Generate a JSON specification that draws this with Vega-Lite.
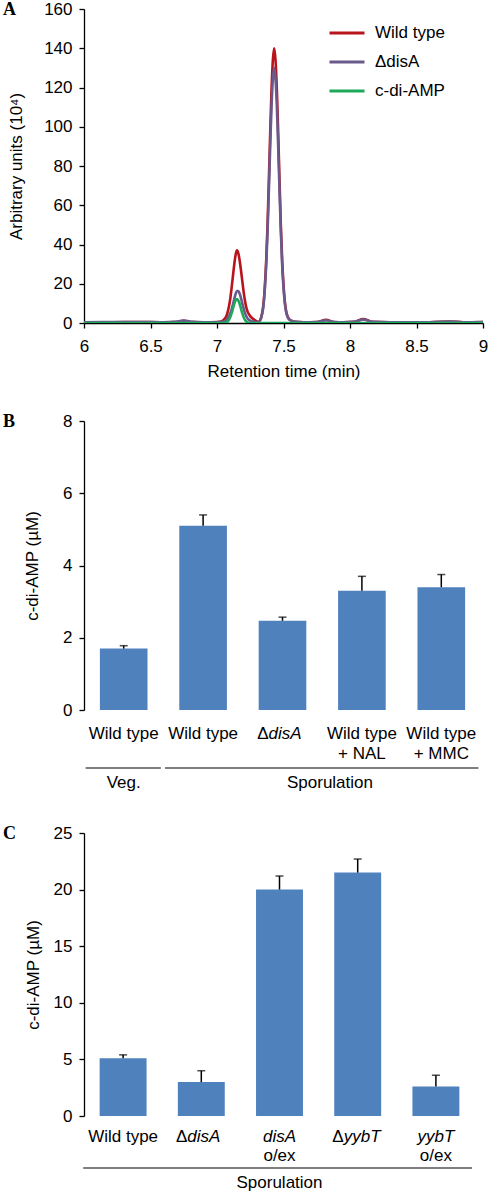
{
  "$schema": "https://vega.github.io/schema/vega-lite/v6.json",
  "padding": {"left": 3, "top": 0, "right": 5, "bottom": 0},
  "spacing": 33,
  "config": {
    "font": "Liberation Sans",
    "view": {"stroke": null},
    "axis": {
      "labelFont": "Liberation Sans", "titleFont": "Liberation Sans",
      "labelFontSize": 17, "titleFontSize": 17, "titleFontWeight": "normal",
      "labelColor": "black", "titleColor": "black",
      "domainColor": "black", "tickColor": "black", "domainWidth": 1.3, "tickWidth": 1.3,
      "tickSize": 5, "grid": false
    },
    "title": {"font": "Liberation Serif", "fontSize": 18, "fontWeight": "bold", "color": "black", "anchor": "start", "frame": "group", "orient": "top", "baseline": "top", "offset": -19, "dx": -81}
  },
  "vconcat": [
    {
      "width": 399, "height": 314,
      "title": {"text": "A"},
      "data": {"values": [
        {"s": "Wild type", "t": 6.0, "v": 0.4}, {"s": "Wild type", "t": 6.2, "v": 0.4}, {"s": "Wild type", "t": 6.4, "v": 0.5}, {"s": "Wild type", "t": 6.6, "v": 0.4},
        {"s": "Wild type", "t": 6.68, "v": 0.5}, {"s": "Wild type", "t": 6.75, "v": 1.1}, {"s": "Wild type", "t": 6.82, "v": 0.5}, {"s": "Wild type", "t": 6.9, "v": 0.4},
        {"s": "Wild type", "t": 7.0, "v": 0.5}, {"s": "Wild type", "t": 7.03, "v": 0.8}, {"s": "Wild type", "t": 7.05, "v": 1.6}, {"s": "Wild type", "t": 7.07, "v": 3.5},
        {"s": "Wild type", "t": 7.08, "v": 5.5}, {"s": "Wild type", "t": 7.09, "v": 8.5}, {"s": "Wild type", "t": 7.1, "v": 12.5}, {"s": "Wild type", "t": 7.11, "v": 18},
        {"s": "Wild type", "t": 7.12, "v": 24}, {"s": "Wild type", "t": 7.13, "v": 30}, {"s": "Wild type", "t": 7.14, "v": 34.8}, {"s": "Wild type", "t": 7.15, "v": 37},
        {"s": "Wild type", "t": 7.16, "v": 35.6}, {"s": "Wild type", "t": 7.17, "v": 32}, {"s": "Wild type", "t": 7.18, "v": 27}, {"s": "Wild type", "t": 7.19, "v": 21.5},
        {"s": "Wild type", "t": 7.2, "v": 16}, {"s": "Wild type", "t": 7.21, "v": 11.5}, {"s": "Wild type", "t": 7.22, "v": 8}, {"s": "Wild type", "t": 7.23, "v": 5.8},
        {"s": "Wild type", "t": 7.25, "v": 3.5}, {"s": "Wild type", "t": 7.27, "v": 2.2}, {"s": "Wild type", "t": 7.29, "v": 1.2}, {"s": "Wild type", "t": 7.3, "v": 0.8},
        {"s": "Wild type", "t": 7.31, "v": 0.6}, {"s": "Wild type", "t": 7.32, "v": 1.0}, {"s": "Wild type", "t": 7.33, "v": 2.4}, {"s": "Wild type", "t": 7.34, "v": 5.2},
        {"s": "Wild type", "t": 7.35, "v": 10}, {"s": "Wild type", "t": 7.36, "v": 19}, {"s": "Wild type", "t": 7.37, "v": 32}, {"s": "Wild type", "t": 7.38, "v": 50},
        {"s": "Wild type", "t": 7.39, "v": 73}, {"s": "Wild type", "t": 7.4, "v": 97}, {"s": "Wild type", "t": 7.41, "v": 119}, {"s": "Wild type", "t": 7.42, "v": 134},
        {"s": "Wild type", "t": 7.43, "v": 140}, {"s": "Wild type", "t": 7.44, "v": 134}, {"s": "Wild type", "t": 7.45, "v": 119}, {"s": "Wild type", "t": 7.46, "v": 97},
        {"s": "Wild type", "t": 7.47, "v": 73}, {"s": "Wild type", "t": 7.48, "v": 50}, {"s": "Wild type", "t": 7.49, "v": 32}, {"s": "Wild type", "t": 7.5, "v": 19.5},
        {"s": "Wild type", "t": 7.51, "v": 11}, {"s": "Wild type", "t": 7.52, "v": 6}, {"s": "Wild type", "t": 7.53, "v": 3.5}, {"s": "Wild type", "t": 7.54, "v": 2.2},
        {"s": "Wild type", "t": 7.56, "v": 1.2}, {"s": "Wild type", "t": 7.59, "v": 0.6}, {"s": "Wild type", "t": 7.65, "v": 0.4}, {"s": "Wild type", "t": 7.75, "v": 0.5},
        {"s": "Wild type", "t": 7.82, "v": 1.6}, {"s": "Wild type", "t": 7.88, "v": 0.5}, {"s": "Wild type", "t": 7.95, "v": 0.4}, {"s": "Wild type", "t": 8.03, "v": 0.6},
        {"s": "Wild type", "t": 8.1, "v": 2.0}, {"s": "Wild type", "t": 8.17, "v": 0.6}, {"s": "Wild type", "t": 8.3, "v": 0.4}, {"s": "Wild type", "t": 8.6, "v": 0.4},
        {"s": "Wild type", "t": 8.75, "v": 0.7}, {"s": "Wild type", "t": 8.85, "v": 0.4}, {"s": "Wild type", "t": 9.0, "v": 0.5},

        {"s": "ΔdisA", "t": 6.0, "v": 0.4}, {"s": "ΔdisA", "t": 6.2, "v": 0.5}, {"s": "ΔdisA", "t": 6.4, "v": 0.5}, {"s": "ΔdisA", "t": 6.6, "v": 0.4},
        {"s": "ΔdisA", "t": 6.68, "v": 0.6}, {"s": "ΔdisA", "t": 6.75, "v": 1.3}, {"s": "ΔdisA", "t": 6.82, "v": 0.6}, {"s": "ΔdisA", "t": 6.9, "v": 0.4},
        {"s": "ΔdisA", "t": 7.0, "v": 0.4}, {"s": "ΔdisA", "t": 7.05, "v": 0.7}, {"s": "ΔdisA", "t": 7.07, "v": 1.5}, {"s": "ΔdisA", "t": 7.09, "v": 3.5},
        {"s": "ΔdisA", "t": 7.1, "v": 5}, {"s": "ΔdisA", "t": 7.11, "v": 7}, {"s": "ΔdisA", "t": 7.12, "v": 9.5}, {"s": "ΔdisA", "t": 7.13, "v": 12.3},
        {"s": "ΔdisA", "t": 7.14, "v": 14.8}, {"s": "ΔdisA", "t": 7.15, "v": 16.3}, {"s": "ΔdisA", "t": 7.16, "v": 16.3}, {"s": "ΔdisA", "t": 7.17, "v": 15},
        {"s": "ΔdisA", "t": 7.18, "v": 12.8}, {"s": "ΔdisA", "t": 7.19, "v": 10}, {"s": "ΔdisA", "t": 7.2, "v": 7.5}, {"s": "ΔdisA", "t": 7.21, "v": 5.2},
        {"s": "ΔdisA", "t": 7.22, "v": 3.5}, {"s": "ΔdisA", "t": 7.23, "v": 2.3}, {"s": "ΔdisA", "t": 7.25, "v": 1.2}, {"s": "ΔdisA", "t": 7.27, "v": 0.6},
        {"s": "ΔdisA", "t": 7.29, "v": 0.4}, {"s": "ΔdisA", "t": 7.31, "v": 0.4}, {"s": "ΔdisA", "t": 7.32, "v": 0.9}, {"s": "ΔdisA", "t": 7.33, "v": 2.2},
        {"s": "ΔdisA", "t": 7.34, "v": 4.8}, {"s": "ΔdisA", "t": 7.35, "v": 9.3}, {"s": "ΔdisA", "t": 7.36, "v": 17.6}, {"s": "ΔdisA", "t": 7.37, "v": 29.7},
        {"s": "ΔdisA", "t": 7.38, "v": 46.4}, {"s": "ΔdisA", "t": 7.39, "v": 67.8}, {"s": "ΔdisA", "t": 7.4, "v": 90}, {"s": "ΔdisA", "t": 7.41, "v": 110.5},
        {"s": "ΔdisA", "t": 7.42, "v": 124.4}, {"s": "ΔdisA", "t": 7.43, "v": 130}, {"s": "ΔdisA", "t": 7.44, "v": 124.4}, {"s": "ΔdisA", "t": 7.45, "v": 110.5},
        {"s": "ΔdisA", "t": 7.46, "v": 90}, {"s": "ΔdisA", "t": 7.47, "v": 67.8}, {"s": "ΔdisA", "t": 7.48, "v": 46.4}, {"s": "ΔdisA", "t": 7.49, "v": 29.7},
        {"s": "ΔdisA", "t": 7.5, "v": 18}, {"s": "ΔdisA", "t": 7.51, "v": 10}, {"s": "ΔdisA", "t": 7.52, "v": 5.5}, {"s": "ΔdisA", "t": 7.53, "v": 3.2},
        {"s": "ΔdisA", "t": 7.54, "v": 2}, {"s": "ΔdisA", "t": 7.56, "v": 1.1}, {"s": "ΔdisA", "t": 7.59, "v": 0.6}, {"s": "ΔdisA", "t": 7.65, "v": 0.4},
        {"s": "ΔdisA", "t": 7.75, "v": 0.5}, {"s": "ΔdisA", "t": 7.82, "v": 1.4}, {"s": "ΔdisA", "t": 7.88, "v": 0.5}, {"s": "ΔdisA", "t": 7.95, "v": 0.4},
        {"s": "ΔdisA", "t": 8.03, "v": 0.6}, {"s": "ΔdisA", "t": 8.1, "v": 1.8}, {"s": "ΔdisA", "t": 8.17, "v": 0.6}, {"s": "ΔdisA", "t": 8.3, "v": 0.4},
        {"s": "ΔdisA", "t": 8.6, "v": 0.4}, {"s": "ΔdisA", "t": 8.75, "v": 0.7}, {"s": "ΔdisA", "t": 8.85, "v": 0.4}, {"s": "ΔdisA", "t": 9.0, "v": 0.5},

        {"s": "c-di-AMP", "t": 6.0, "v": 0}, {"s": "c-di-AMP", "t": 7.0, "v": 0}, {"s": "c-di-AMP", "t": 7.06, "v": 0.1}, {"s": "c-di-AMP", "t": 7.07, "v": 0.35},
        {"s": "c-di-AMP", "t": 7.08, "v": 0.8}, {"s": "c-di-AMP", "t": 7.09, "v": 1.6}, {"s": "c-di-AMP", "t": 7.1, "v": 3.0}, {"s": "c-di-AMP", "t": 7.11, "v": 5.0},
        {"s": "c-di-AMP", "t": 7.12, "v": 7.4}, {"s": "c-di-AMP", "t": 7.13, "v": 9.8}, {"s": "c-di-AMP", "t": 7.14, "v": 11.5}, {"s": "c-di-AMP", "t": 7.15, "v": 12.2},
        {"s": "c-di-AMP", "t": 7.16, "v": 11.5}, {"s": "c-di-AMP", "t": 7.17, "v": 9.8}, {"s": "c-di-AMP", "t": 7.18, "v": 7.4}, {"s": "c-di-AMP", "t": 7.19, "v": 5.0},
        {"s": "c-di-AMP", "t": 7.2, "v": 3.0}, {"s": "c-di-AMP", "t": 7.21, "v": 1.6}, {"s": "c-di-AMP", "t": 7.22, "v": 0.8}, {"s": "c-di-AMP", "t": 7.23, "v": 0.35},
        {"s": "c-di-AMP", "t": 7.24, "v": 0.1}, {"s": "c-di-AMP", "t": 7.26, "v": 0}, {"s": "c-di-AMP", "t": 9.0, "v": 0}
      ]},
      "mark": {"type": "line", "interpolate": "monotone", "strokeWidth": 2.6, "clip": true},
      "encoding": {
        "x": {"field": "t", "type": "quantitative", "scale": {"domain": [6, 9], "nice": false},
              "axis": {"values": [6, 6.5, 7, 7.5, 8, 8.5, 9], "format": "~g", "title": "Retention time (min)", "labelPadding": 10, "titlePadding": 9, "labelFlush": false}},
        "y": {"field": "v", "type": "quantitative", "scale": {"domain": [0, 160], "nice": false},
              "axis": {"values": [0, 20, 40, 60, 80, 100, 120, 140, 160], "title": "Arbitrary units (10⁴)", "labelPadding": 7, "titlePadding": 18}},
        "color": {"field": "s", "type": "nominal", "sort": ["Wild type", "ΔdisA", "c-di-AMP"],
                  "scale": {"domain": ["Wild type", "ΔdisA", "c-di-AMP"], "range": ["#b8141c", "#6a5a8c", "#1ca95a"]},
                  "legend": {"title": null, "orient": "none", "legendX": 244, "legendY": 5, "padding": 0,
                             "symbolType": "stroke", "symbolSize": 1225, "symbolStrokeWidth": 3,
                             "labelFontSize": 17, "labelFont": "Liberation Sans", "labelColor": "black", "labelOffset": 9, "rowPadding": 2}}
      }
    },
    {
      "width": 397, "height": 289,
      "title": {"text": "B"},
      "layer": [
        {
          "data": {"name": "b"},
          "mark": {"type": "bar", "color": "#4f81bd"},
          "encoding": {
            "x": {"field": "k", "type": "nominal", "scale": {"paddingInner": 0.4, "paddingOuter": 0.2},
                  "axis": {"title": null, "labels": false, "tickBand": "extent", "tickSize": 5}},
            "y": {"field": "v", "type": "quantitative", "scale": {"domain": [0, 8], "nice": false},
                  "axis": {"values": [0, 2, 4, 6, 8], "title": "c-di-AMP (µM)", "labelPadding": 7, "titlePadding": 21}}
          }
        },
        {
          "data": {"name": "b"},
          "mark": {"type": "rule", "color": "black", "strokeWidth": 1.5},
          "encoding": {"x": {"field": "k", "type": "nominal", "axis": null}, "y": {"field": "v", "type": "quantitative"}, "y2": {"field": "e"}}
        },
        {
          "data": {"name": "b"},
          "mark": {"type": "tick", "color": "black", "thickness": 1.5, "size": 8},
          "encoding": {"x": {"field": "k", "type": "nominal", "axis": null}, "y": {"field": "e", "type": "quantitative"}}
        },
        {
          "data": {"name": "b"},
          "transform": [{"filter": "datum.f == 'n'"}],
          "mark": {"type": "text", "fontSize": 17, "baseline": "alphabetic", "dy": 29, "color": "black"},
          "encoding": {"x": {"field": "k", "type": "nominal", "axis": null}, "y": {"datum": 0}, "text": {"field": "l1"}}
        },
        {
          "data": {"name": "b"},
          "transform": [{"filter": "datum.f == 'di'"}],
          "mark": {"type": "text", "fontSize": 17, "baseline": "alphabetic", "dy": 29, "align": "left", "dx": -14, "fontStyle": "italic", "color": "black"},
          "encoding": {"x": {"field": "k", "type": "nominal", "axis": null}, "y": {"datum": 0}, "text": {"field": "l1"}}
        },
        {
          "data": {"name": "b"},
          "transform": [{"filter": "datum.f == 'di'"}],
          "mark": {"type": "text", "fontSize": 17, "baseline": "alphabetic", "dy": 29, "align": "right", "dx": -14, "color": "black"},
          "encoding": {"x": {"field": "k", "type": "nominal", "axis": null}, "y": {"datum": 0}, "text": {"value": "Δ"}}
        },
        {
          "data": {"name": "b"},
          "mark": {"type": "text", "fontSize": 17, "baseline": "alphabetic", "dy": 49, "color": "black"},
          "encoding": {"x": {"field": "k", "type": "nominal", "axis": null}, "y": {"datum": 0}, "text": {"field": "l2"}}
        },
        {
          "data": {"name": "bg"},
          "mark": {"type": "rule", "color": "black", "strokeWidth": 1.2, "yOffset": 58},
          "encoding": {"x": {"field": "from", "type": "nominal", "bandPosition": -0.3, "axis": null}, "x2": {"field": "to", "bandPosition": 1.28}, "y": {"datum": 0}}
        },
        {
          "data": {"name": "bg"},
          "transform": [{"filter": "datum.g == 'Veg.'"}],
          "mark": {"type": "text", "fontSize": 17, "baseline": "alphabetic", "dy": 78, "color": "black"},
          "encoding": {"x": {"field": "from", "type": "nominal", "axis": null}, "y": {"datum": 0}, "text": {"field": "g"}}
        },
        {
          "data": {"name": "bg"},
          "transform": [{"filter": "datum.g == 'Sporulation'"}],
          "mark": {"type": "text", "fontSize": 17, "baseline": "alphabetic", "dy": 78, "color": "black"},
          "encoding": {"x": {"field": "mid", "type": "nominal", "bandPosition": -0.17, "axis": null}, "y": {"datum": 0}, "text": {"field": "g"}}
        }
      ]
    },
    {
      "width": 391, "height": 283,
      "title": {"text": "C"},
      "layer": [
        {
          "data": {"name": "c"},
          "mark": {"type": "bar", "color": "#4f81bd"},
          "encoding": {
            "x": {"field": "k", "type": "nominal", "scale": {"paddingInner": 0.4, "paddingOuter": 0.2},
                  "axis": {"title": null, "labels": false, "tickBand": "extent", "tickSize": 5}},
            "y": {"field": "v", "type": "quantitative", "scale": {"domain": [0, 25], "nice": false},
                  "axis": {"values": [0, 5, 10, 15, 20, 25], "title": "c-di-AMP (µM)", "labelPadding": 7, "titlePadding": 11}}
          }
        },
        {
          "data": {"name": "c"},
          "mark": {"type": "rule", "color": "black", "strokeWidth": 1.5},
          "encoding": {"x": {"field": "k", "type": "nominal", "axis": null}, "y": {"field": "v", "type": "quantitative"}, "y2": {"field": "e"}}
        },
        {
          "data": {"name": "c"},
          "mark": {"type": "tick", "color": "black", "thickness": 1.5, "size": 8},
          "encoding": {"x": {"field": "k", "type": "nominal", "axis": null}, "y": {"field": "e", "type": "quantitative"}}
        },
        {
          "data": {"name": "c"},
          "transform": [{"filter": "datum.f == 'n'"}],
          "mark": {"type": "text", "fontSize": 17, "baseline": "alphabetic", "dy": 26, "color": "black"},
          "encoding": {"x": {"field": "k", "type": "nominal", "axis": null}, "y": {"datum": 0}, "text": {"field": "l1"}}
        },
        {
          "data": {"name": "c"},
          "transform": [{"filter": "datum.f == 'i'"}],
          "mark": {"type": "text", "fontSize": 17, "baseline": "alphabetic", "dy": 26, "fontStyle": "italic", "color": "black"},
          "encoding": {"x": {"field": "k", "type": "nominal", "axis": null}, "y": {"datum": 0}, "text": {"field": "l1"}}
        },
        {
          "data": {"name": "c"},
          "transform": [{"filter": "datum.f == 'di'"}],
          "mark": {"type": "text", "fontSize": 17, "baseline": "alphabetic", "dy": 26, "align": "left", "dx": -14, "fontStyle": "italic", "color": "black"},
          "encoding": {"x": {"field": "k", "type": "nominal", "axis": null}, "y": {"datum": 0}, "text": {"field": "l1"}}
        },
        {
          "data": {"name": "c"},
          "transform": [{"filter": "datum.f == 'di'"}],
          "mark": {"type": "text", "fontSize": 17, "baseline": "alphabetic", "dy": 26, "align": "right", "dx": -14, "color": "black"},
          "encoding": {"x": {"field": "k", "type": "nominal", "axis": null}, "y": {"datum": 0}, "text": {"value": "Δ"}}
        },
        {
          "data": {"name": "c"},
          "mark": {"type": "text", "fontSize": 17, "baseline": "alphabetic", "dy": 45, "color": "black"},
          "encoding": {"x": {"field": "k", "type": "nominal", "axis": null}, "y": {"datum": 0}, "text": {"field": "l2"}}
        },
        {
          "data": {"name": "cg"},
          "mark": {"type": "rule", "color": "black", "strokeWidth": 1.2, "yOffset": 52},
          "encoding": {"x": {"field": "from", "type": "nominal", "bandPosition": -0.35, "axis": null}, "x2": {"field": "to", "bandPosition": 1.27}, "y": {"datum": 0}}
        },
        {
          "data": {"name": "cg"},
          "mark": {"type": "text", "fontSize": 17, "baseline": "alphabetic", "dy": 72, "color": "black"},
          "encoding": {"x": {"field": "mid", "type": "nominal", "axis": null}, "y": {"datum": 0}, "text": {"field": "g"}}
        }
      ]
    }
  ],
  "datasets": {
    "b": [
      {"k": "a", "l1": "Wild type", "l2": "", "f": "n", "v": 1.7, "e": 1.78},
      {"k": "b", "l1": "Wild type", "l2": "", "f": "n", "v": 5.1, "e": 5.4},
      {"k": "c", "l1": "disA", "l2": "", "f": "di", "v": 2.47, "e": 2.57},
      {"k": "d", "l1": "Wild type", "l2": "+ NAL", "f": "n", "v": 3.3, "e": 3.7},
      {"k": "e", "l1": "Wild type", "l2": "+ MMC", "f": "n", "v": 3.4, "e": 3.75}
    ],
    "bg": [
      {"g": "Veg.", "from": "a", "to": "a", "mid": "a"},
      {"g": "Sporulation", "from": "b", "to": "e", "mid": "d"}
    ],
    "c": [
      {"k": "a", "l1": "Wild type", "l2": "", "f": "n", "v": 5.1, "e": 5.4},
      {"k": "b", "l1": "disA", "l2": "", "f": "di", "v": 3.0, "e": 4.0},
      {"k": "c", "l1": "disA", "l2": "o/ex", "f": "i", "v": 20.0, "e": 21.2},
      {"k": "d", "l1": "yybT", "l2": "", "f": "di", "v": 21.5, "e": 22.7},
      {"k": "e", "l1": "yybT", "l2": "o/ex", "f": "i", "v": 2.6, "e": 3.6}
    ],
    "cg": [
      {"g": "Sporulation", "from": "a", "to": "e", "mid": "c"}
    ]
  }
}
